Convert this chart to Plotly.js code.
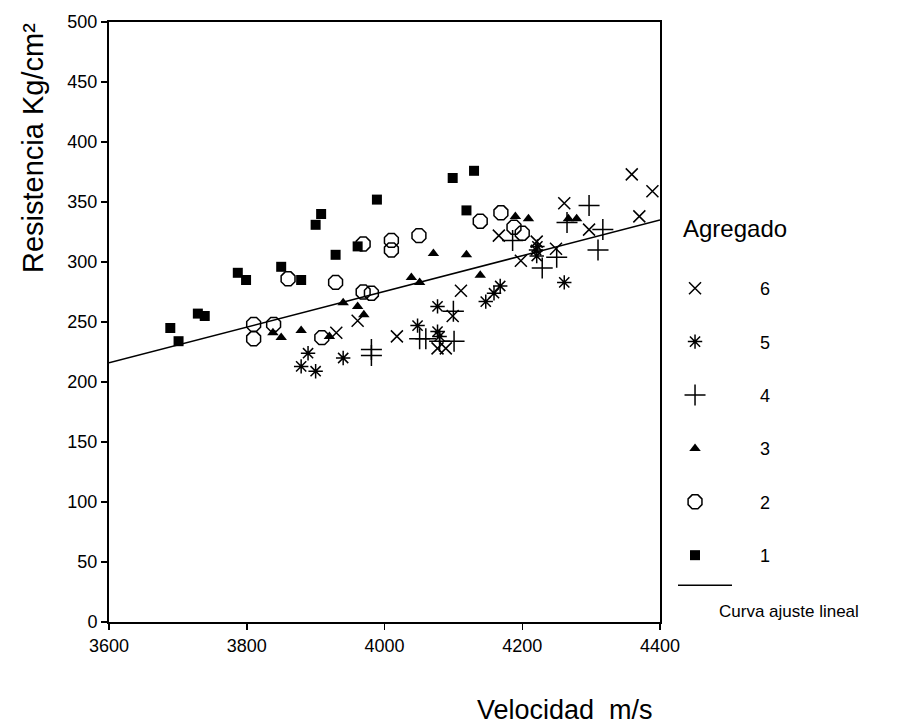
<!DOCTYPE html>
<html>
<head>
<meta charset="utf-8">
<script src="https://cdn.plot.ly/plotly-3.0.1.min.js"></script>
<style>html,body{margin:0;padding:0;background:#fff}#chart{width:897px;height:724px}</style>
</head>
<body>
<div id="chart"></div>
<script>
// Agregado 1 (squares)
const g1x = [3689,3701,3729,3739,3787,3799,3850,3879,3900,3908,3929,3961,3989,4099,4119,4130];
const g1y = [245,234,257,255,291,285,296,285,331,340,306,313,352,370,343,376];
// Agregado 2 (open circles)
const g2x = [3810,3810,3839,3860,3909,3929,3969,3969,3981,4010,4010,4050,4139,4169,4188,4200];
const g2y = [248,236,248,286,237,283,315,275,274,318,310,322,334,341,329,324];
// Agregado 3 (triangles)
const g3x = [3838,3850,3879,3920,3940,3961,3970,4039,4051,4071,4119,4139,4190,4209,4267,4279];
const g3y = [241,237,243,238,266,263,256,287,283,307,306,289,338,336,336,336];
// Agregado 4 (plus)
const g4x = [3981,3981,4051,4060,4080,4101,4100,4186,4229,4250,4265,4297,4317,4310];
const g4y = [227,222,236,236,234,234,259,318,295,304,333,347,327,310];
// Agregado 5 (asterisk)
const g5x = [3879,3889,3900,3940,4048,4077,4077,4080,4147,4159,4168,4220,4221,4261,4222];
const g5y = [213,224,209,220,247,263,242,238,267,274,280,310,305,283,313];
// Agregado 6 (x)
const g6x = [3930,3961,4018,4111,4099,4077,4089,4166,4198,4221,4249,4261,4297,4359,4389,4370];
const g6y = [241,251,238,276,255,228,228,322,301,317,311,349,327,373,359,338];
// Curva ajuste lineal
const fitX = [3600,4400];
const fitY = [216,335];

const names = ['6','5','4','3','2','1'];
const xTicks = [3600,3800,4000,4200,4400];
const yTicks = [0,50,100,150,200,250,300,350,400,450,500];

const font = 'Liberation Sans, Arial, sans-serif';
const mk = (x,y,name,symbol,size,lw) => ({
  x:x, y:y, name:name, type:'scatter', mode:'markers', legendgroup:name, legend:'legend',
  marker:{symbol:symbol, size:size, color:'#000', line:{color:'#000', width:lw}},
  cliponaxis:false
});

const traces = [
  mk(g6x,g6y,names[0],'x-thin-open',12,1.5),
  mk(g5x,g5y,names[1],'asterisk-open',12,1.5),
  mk(g4x,g4y,names[2],'cross-thin-open',15,1.5),
  mk(g3x,g3y,names[3],'triangle-up',10,0),
  mk(g2x,g2y,names[4],'octagon-open',15,1.5),
  mk(g1x,g1y,names[5],'square',10,0),
  {x:fitX, y:fitY, name:'', type:'scatter', mode:'lines', legendgroup:'fit', legend:'legend2',
   line:{color:'#000', width:1.5}}
];

const layout = {
  width:897, height:724,
  margin:{l:109, r:237, t:22, b:102},
  paper_bgcolor:'#fff', plot_bgcolor:'#fff',
  font:{family:font, color:'#000', size:18},
  showlegend:true,
  legend:{x:0.9456, xanchor:'left', y:0.5867, yanchor:'top',
    font:{size:18}, tracegroupgap:27, itemwidth:120, bgcolor:'rgba(0,0,0,0)', borderwidth:0},
  legend2:{x:1.0236, xanchor:'left', y:0.0917, yanchor:'top',
    font:{size:18}, itemwidth:54, bgcolor:'rgba(0,0,0,0)', borderwidth:0},
  xaxis:{range:[3600,4400], tickvals:xTicks, ticktext:xTicks.map(String), showgrid:false, zeroline:false,
    showline:true, mirror:true, linecolor:'#000', linewidth:2,
    ticks:'outside', ticklen:6, tickwidth:1.5, tickcolor:'#000',
    tickfont:{size:18}},
  yaxis:{range:[0,500], tickvals:yTicks, ticktext:yTicks.map(String), showgrid:false, zeroline:false,
    showline:true, mirror:true, linecolor:'#000', linewidth:2,
    ticks:'outside', ticklen:6, tickwidth:1.5, tickcolor:'#000',
    tickfont:{size:18}},
  annotations:[
    {text:'Resistencia Kg/cm²', xref:'paper', yref:'paper', x:-0.138, y:0.79,
     textangle:-90, showarrow:false, font:{size:29}, xanchor:'center', yanchor:'middle'},
    {text:'Velocidad  m/s', xref:'paper', yref:'paper', x:0.8276, y:-0.147,
     showarrow:false, font:{size:27}, xanchor:'center', yanchor:'middle'},
    {text:'Agregado', xref:'paper', yref:'paper', x:1.038, y:0.655,
     showarrow:false, font:{size:24}, xanchor:'left', yanchor:'middle'},
    {text:'Curva ajuste lineal', xref:'paper', yref:'paper', x:1.1034, y:0.0167,
     showarrow:false, font:{size:17}, xanchor:'left', yanchor:'middle'}
  ]
};

Plotly.newPlot('chart', traces, layout, {displayModeBar:false, staticPlot:true});
</script>
</body>
</html>
